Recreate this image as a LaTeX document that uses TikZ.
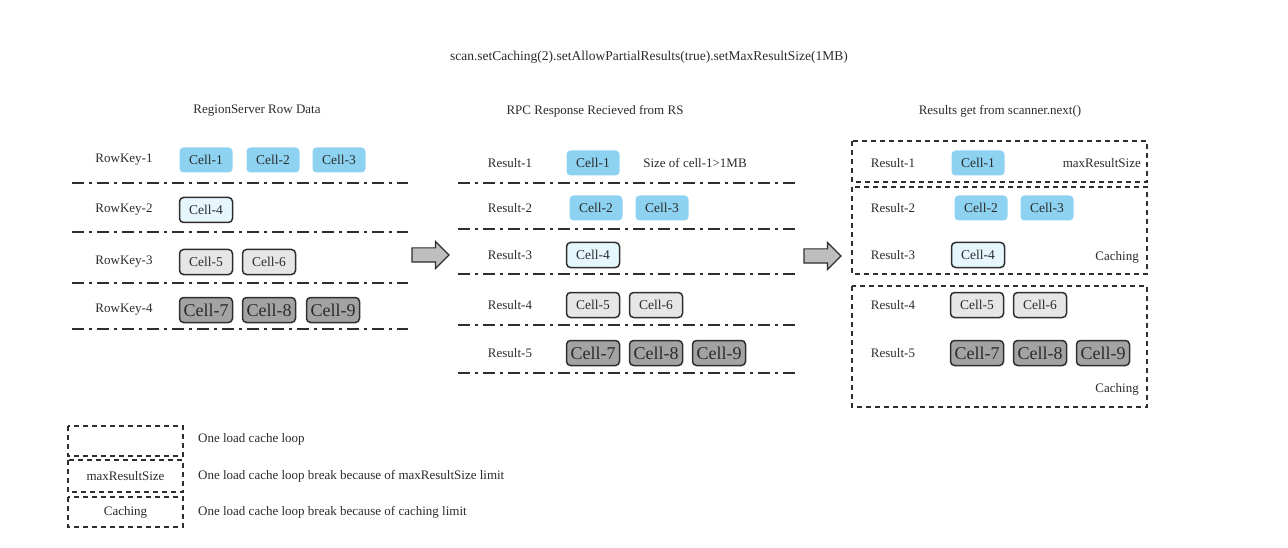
\documentclass[tikz,border=0pt]{standalone}
\usepackage{fontspec}
\setmainfont{Liberation Serif}
\usetikzlibrary{shapes.arrows}
\definecolor{cblue}{HTML}{8DD3F1}
\definecolor{clblue}{HTML}{E5F6FD}
\definecolor{clgray}{HTML}{E6E6E6}
\definecolor{cdgray}{HTML}{A3A3A3}
\definecolor{cdark}{HTML}{2E2E2E}
\definecolor{ctext}{HTML}{2B2B2B}
\definecolor{carrow}{HTML}{BEBEBE}
\begin{document}
\begin{tikzpicture}[x=1pt,y=-1pt,
  txt/.style={font=\fontsize{13}{15}\selectfont, inner sep=0, text=ctext},
  cellbase/.style={rounded corners=4pt, minimum width=53pt, minimum height=25pt, inner sep=0, font=\fontsize{13.5}{15}\selectfont, text=ctext},
  bluecell/.style={cellbase, fill=cblue},
  lbcell/.style={cellbase, fill=clblue, draw=cdark, line width=1.5pt},
  lgcell/.style={cellbase, fill=clgray, draw=cdark, line width=1.5pt},
  dgcell/.style={cellbase, fill=cdgray, draw=cdark, line width=1.5pt, font=\fontsize{18}{20}\selectfont},
  sepline/.style={line width=1.8pt, dash pattern=on 12pt off 5pt on 3pt off 5pt, draw=cdark},
  loopbox/.style={draw=cdark, line width=1.5pt, dash pattern=on 5pt off 4pt},
  bigarrow/.style={single arrow, draw=cdark, fill=carrow, line width=1.2pt, minimum height=37pt, inner xsep=0pt, inner ysep=6.5pt, single arrow head extend=6.5pt, single arrow tip angle=90},
]
\useasboundingbox (0,0) rectangle (1288,548);

% title and headers
\node[txt, font=\fontsize{13.5}{15}\selectfont] (title) at (649,57) {scan.setCaching(2).setAllowPartialResults(true).setMaxResultSize(1MB)};
\node[txt] (h1) at (257,111) {RegionServer Row Data};
\node[txt] (h2) at (595,111) {RPC Response Recieved from RS};
\node[txt] (h3) at (1000,111) {Results get from scanner.next()};

% left panel
\node[txt] (rk1) at (124,160) {RowKey-1};
\node[txt] (rk2) at (124,210) {RowKey-2};
\node[txt] (rk3) at (124,262) {RowKey-3};
\node[txt] (rk4) at (124,310) {RowKey-4};
\node[bluecell] (lc1) at (206,160) {Cell-1};
\node[bluecell] (lc2) at (273,160) {Cell-2};
\node[bluecell] (lc3) at (339,160) {Cell-3};
\node[lbcell] (lc4) at (206,210) {Cell-4};
\node[lgcell] (lc5) at (206,262) {Cell-5};
\node[lgcell] (lc6) at (269,262) {Cell-6};
\node[dgcell] (lc7) at (206,310) {Cell-7};
\node[dgcell] (lc8) at (269,310) {Cell-8};
\node[dgcell] (lc9) at (333,310) {Cell-9};
\foreach \y in {183,232,283,329} \draw[sepline] (72,\y) -- (408,\y);

% middle panel
\node[txt] (mr1) at (510,163) {Result-1};
\node[txt] (mr2) at (510,208) {Result-2};
\node[txt] (mr3) at (510,255) {Result-3};
\node[txt] (mr4) at (510,305) {Result-4};
\node[txt] (mr5) at (510,353) {Result-5};
\node[bluecell] (mc1) at (593,163) {Cell-1};
\node[txt] (msize) at (695,163) {Size of cell-1>1MB};
\node[bluecell] (mc2) at (596,208) {Cell-2};
\node[bluecell] (mc3) at (662,208) {Cell-3};
\node[lbcell] (mc4) at (593,255) {Cell-4};
\node[lgcell] (mc5) at (593,305) {Cell-5};
\node[lgcell] (mc6) at (656,305) {Cell-6};
\node[dgcell] (mc7) at (593,353) {Cell-7};
\node[dgcell] (mc8) at (656,353) {Cell-8};
\node[dgcell] (mc9) at (719,353) {Cell-9};
\foreach \y in {183,229,274,325,373} \draw[sepline] (458,\y) -- (795,\y);

% arrows
\node[bigarrow] (arr1) at (427,255) {};
\node[bigarrow] (arr2) at (819,256) {};

% right panel
\draw[loopbox] (852,141) rectangle (1147,182);
\draw[loopbox] (852,187) rectangle (1147,274);
\draw[loopbox] (852,286) rectangle (1147,407);
\node[txt] (rr1) at (893,163) {Result-1};
\node[txt] (rr2) at (893,208) {Result-2};
\node[txt] (rr3) at (893,255) {Result-3};
\node[txt] (rr4) at (893,305) {Result-4};
\node[txt] (rr5) at (893,353) {Result-5};
\node[bluecell] (rc1) at (978,163) {Cell-1};
\node[txt, anchor=east] (rmax) at (1141,163) {maxResultSize};
\node[bluecell] (rc2) at (981,208) {Cell-2};
\node[bluecell] (rc3) at (1047,208) {Cell-3};
\node[lbcell] (rc4) at (978,255) {Cell-4};
\node[txt, anchor=east] (rcach1) at (1139,257) {Caching};
\node[lgcell] (rc5) at (977,305) {Cell-5};
\node[lgcell] (rc6) at (1040,305) {Cell-6};
\node[dgcell] (rc7) at (977,353) {Cell-7};
\node[dgcell] (rc8) at (1040,353) {Cell-8};
\node[dgcell] (rc9) at (1103,353) {Cell-9};
\node[txt, anchor=east] (rcach2) at (1139,389) {Caching};

% legend
\draw[loopbox] (68,426) rectangle (183,456);
\draw[loopbox] (68,460) rectangle (183,492);
\draw[loopbox] (68,497) rectangle (183,527);
\node[txt] (lgm) at (125.5,476) {maxResultSize};
\node[txt] (lgc) at (125.5,512) {Caching};
\node[txt, anchor=west] (lt1) at (198,439) {One load cache loop};
\node[txt, anchor=west] (lt2) at (198,476) {One load cache loop break because of maxResultSize limit};
\node[txt, anchor=west] (lt3) at (198,512) {One load cache loop break because of caching limit};
\end{tikzpicture}
\end{document}
